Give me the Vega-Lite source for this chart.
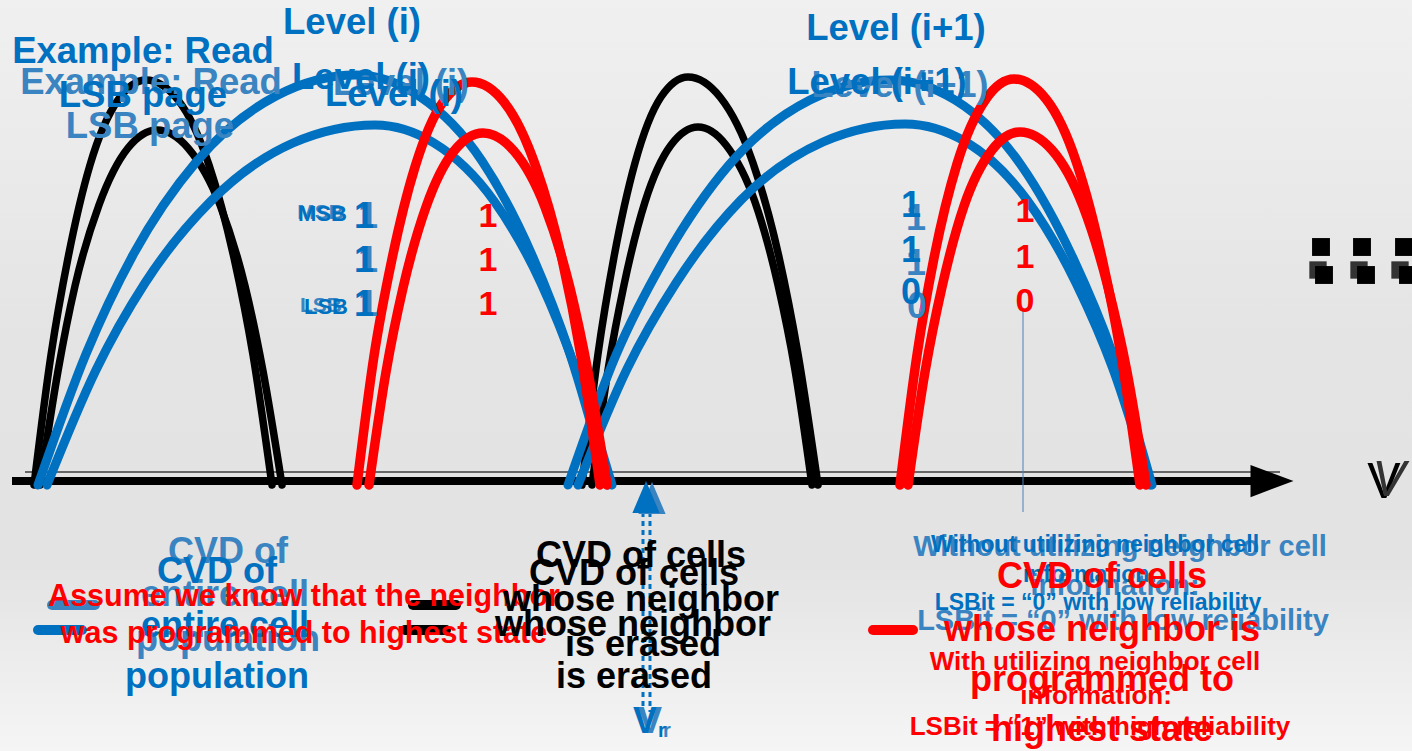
{
  "$schema": "https://vega.github.io/schema/vega-lite/v6.json",
  "width": 1412,
  "height": 751,
  "padding": 0,
  "autosize": {"type": "none"},
  "config": {
    "view": {
      "stroke": null,
      "fill": {"gradient": "linear", "x1": 0, "y1": 0, "x2": 0, "y2": 1,
        "stops": [{"offset": 0, "color": "#f0f0f0"}, {"offset": 0.45, "color": "#e4e4e4"}, {"offset": 0.75, "color": "#e3e3e3"}, {"offset": 1, "color": "#f5f5f5"}]}
    }
  },
  "datasets": {
    "curves": [
      {"s":"erased","c":"K1","x":34,"y":485},{"s":"erased","c":"K1","x":51,"y":355},{"s":"erased","c":"K1","x":68,"y":258},{"s":"erased","c":"K1","x":90,"y":165},{"s":"erased","c":"K1","x":118,"y":100},{"s":"erased","c":"K1","x":146,"y":80},{"s":"erased","c":"K1","x":178,"y":100},{"s":"erased","c":"K1","x":209,"y":165},{"s":"erased","c":"K1","x":234,"y":258},{"s":"erased","c":"K1","x":253,"y":355},{"s":"erased","c":"K1","x":272,"y":485},
      {"s":"erased","c":"K2","x":40,"y":485},{"s":"erased","c":"K2","x":58,"y":371},{"s":"erased","c":"K2","x":75,"y":286},{"s":"erased","c":"K2","x":99,"y":205},{"s":"erased","c":"K2","x":128,"y":148},{"s":"erased","c":"K2","x":157,"y":130},{"s":"erased","c":"K2","x":188,"y":148},{"s":"erased","c":"K2","x":220,"y":205},{"s":"erased","c":"K2","x":245,"y":286},{"s":"erased","c":"K2","x":263,"y":371},{"s":"erased","c":"K2","x":282,"y":485},
      {"s":"erased","c":"K3","x":582,"y":485},{"s":"erased","c":"K3","x":598,"y":354},{"s":"erased","c":"K3","x":614,"y":257},{"s":"erased","c":"K3","x":635,"y":163},{"s":"erased","c":"K3","x":661,"y":97},{"s":"erased","c":"K3","x":688,"y":77},{"s":"erased","c":"K3","x":720,"y":97},{"s":"erased","c":"K3","x":753,"y":163},{"s":"erased","c":"K3","x":779,"y":257},{"s":"erased","c":"K3","x":798,"y":354},{"s":"erased","c":"K3","x":818,"y":485},
      {"s":"erased","c":"K4","x":592,"y":485},{"s":"erased","c":"K4","x":608,"y":370},{"s":"erased","c":"K4","x":624,"y":285},{"s":"erased","c":"K4","x":645,"y":202},{"s":"erased","c":"K4","x":671,"y":145},{"s":"erased","c":"K4","x":698,"y":127},{"s":"erased","c":"K4","x":726,"y":145},{"s":"erased","c":"K4","x":755,"y":202},{"s":"erased","c":"K4","x":778,"y":285},{"s":"erased","c":"K4","x":795,"y":370},{"s":"erased","c":"K4","x":812,"y":485},
      {"s":"entire","c":"B1","x":38,"y":485},{"s":"entire","c":"B1","x":86,"y":354},{"s":"entire","c":"B1","x":133,"y":255},{"s":"entire","c":"B1","x":197,"y":161},{"s":"entire","c":"B1","x":276,"y":96},{"s":"entire","c":"B1","x":356,"y":75},{"s":"entire","c":"B1","x":419,"y":96},{"s":"entire","c":"B1","x":482,"y":161},{"s":"entire","c":"B1","x":532,"y":255},{"s":"entire","c":"B1","x":570,"y":354},{"s":"entire","c":"B1","x":608,"y":485},
      {"s":"entire","c":"B2","x":47,"y":485},{"s":"entire","c":"B2","x":96,"y":370},{"s":"entire","c":"B2","x":145,"y":283},{"s":"entire","c":"B2","x":211,"y":201},{"s":"entire","c":"B2","x":293,"y":143},{"s":"entire","c":"B2","x":375,"y":125},{"s":"entire","c":"B2","x":434,"y":143},{"s":"entire","c":"B2","x":494,"y":201},{"s":"entire","c":"B2","x":541,"y":283},{"s":"entire","c":"B2","x":576,"y":370},{"s":"entire","c":"B2","x":612,"y":485},
      {"s":"entire","c":"B3","x":568,"y":485},{"s":"entire","c":"B3","x":616,"y":355},{"s":"entire","c":"B3","x":665,"y":258},{"s":"entire","c":"B3","x":729,"y":165},{"s":"entire","c":"B3","x":810,"y":100},{"s":"entire","c":"B3","x":890,"y":80},{"s":"entire","c":"B3","x":955,"y":100},{"s":"entire","c":"B3","x":1021,"y":165},{"s":"entire","c":"B3","x":1073,"y":258},{"s":"entire","c":"B3","x":1113,"y":355},{"s":"entire","c":"B3","x":1152,"y":485},
      {"s":"entire","c":"B4","x":578,"y":485},{"s":"entire","c":"B4","x":627,"y":369},{"s":"entire","c":"B4","x":676,"y":283},{"s":"entire","c":"B4","x":741,"y":200},{"s":"entire","c":"B4","x":823,"y":142},{"s":"entire","c":"B4","x":905,"y":124},{"s":"entire","c":"B4","x":966,"y":142},{"s":"entire","c":"B4","x":1027,"y":200},{"s":"entire","c":"B4","x":1076,"y":283},{"s":"entire","c":"B4","x":1113,"y":369},{"s":"entire","c":"B4","x":1150,"y":485},
      {"s":"programmed","c":"R1","x":357,"y":485},{"s":"programmed","c":"R1","x":374,"y":356},{"s":"programmed","c":"R1","x":392,"y":259},{"s":"programmed","c":"R1","x":415,"y":167},{"s":"programmed","c":"R1","x":443,"y":102},{"s":"programmed","c":"R1","x":472,"y":82},{"s":"programmed","c":"R1","x":504,"y":102},{"s":"programmed","c":"R1","x":536,"y":167},{"s":"programmed","c":"R1","x":562,"y":259},{"s":"programmed","c":"R1","x":581,"y":356},{"s":"programmed","c":"R1","x":600,"y":485},
      {"s":"programmed","c":"R2","x":369,"y":485},{"s":"programmed","c":"R2","x":386,"y":372},{"s":"programmed","c":"R2","x":403,"y":288},{"s":"programmed","c":"R2","x":426,"y":207},{"s":"programmed","c":"R2","x":454,"y":151},{"s":"programmed","c":"R2","x":483,"y":133},{"s":"programmed","c":"R2","x":514,"y":151},{"s":"programmed","c":"R2","x":545,"y":207},{"s":"programmed","c":"R2","x":570,"y":288},{"s":"programmed","c":"R2","x":588,"y":372},{"s":"programmed","c":"R2","x":607,"y":485},
      {"s":"programmed","c":"R3","x":900,"y":485},{"s":"programmed","c":"R3","x":917,"y":355},{"s":"programmed","c":"R3","x":934,"y":258},{"s":"programmed","c":"R3","x":957,"y":164},{"s":"programmed","c":"R3","x":986,"y":99},{"s":"programmed","c":"R3","x":1014,"y":79},{"s":"programmed","c":"R3","x":1046,"y":99},{"s":"programmed","c":"R3","x":1077,"y":164},{"s":"programmed","c":"R3","x":1102,"y":258},{"s":"programmed","c":"R3","x":1121,"y":355},{"s":"programmed","c":"R3","x":1140,"y":485},
      {"s":"programmed","c":"R4","x":908,"y":485},{"s":"programmed","c":"R4","x":925,"y":372},{"s":"programmed","c":"R4","x":942,"y":287},{"s":"programmed","c":"R4","x":964,"y":206},{"s":"programmed","c":"R4","x":992,"y":150},{"s":"programmed","c":"R4","x":1020,"y":132},{"s":"programmed","c":"R4","x":1052,"y":150},{"s":"programmed","c":"R4","x":1083,"y":206},{"s":"programmed","c":"R4","x":1108,"y":287},{"s":"programmed","c":"R4","x":1127,"y":372},{"s":"programmed","c":"R4","x":1146,"y":485}
    ],
    "axisThin": [{"x":25,"x2":1280,"y":472,"y2":472}],
    "axisThick": [{"x":12,"x2":1255,"y":481,"y2":481}],
    "axisHead": [{"x":1272,"y":481}],
    "vline": [{"x":1023,"x2":1023,"y":308,"y2":512}],
    "dots": [{"x":643,"x2":643,"y":512,"y2":712},{"x":650,"x2":650,"y":512,"y2":712}],
    "vrHead": [{"x":646,"y":497}],
    "vrHeadLight": [{"x":652,"y":498}],
    "ellipsisGray": [{"x":1318,"y":270},{"x":1359,"y":270},{"x":1400,"y":270}],
    "ellipsis": [{"x":1321,"y":247},{"x":1362,"y":247},{"x":1404,"y":247},{"x":1324,"y":275},{"x":1366,"y":275},{"x":1408,"y":275}],
    "legBlueLight": [{"x":52,"x2":95,"y":605,"y2":605}],
    "legBlue": [{"x":38,"x2":82,"y":630,"y2":630}],
    "legBlack": [{"x":413,"x2":456,"y":605,"y2":605},{"x":405,"x2":446,"y":630,"y2":630}],
    "legRed": [{"x":873,"x2":913,"y":630,"y2":630}],
    "txtBlueLight35": [{"x":151,"y":83,"t":"Example: Read"},{"x":150,"y":127,"t":"LSB page"}],
    "txtBlue35": [{"x":143,"y":52,"t":"Example: Read"},{"x":143,"y":96,"t":"LSB page"}],
    "txtLevelLight": [{"x":401,"y":84,"t":"Level (i)"},{"x":900,"y":86,"t":"Level (i+1)"}],
    "txtLevel": [{"x":352,"y":23,"t":"Level (i)"},{"x":896,"y":29,"t":"Level (i+1)"},{"x":361,"y":78,"t":"Level (i)"},{"x":394,"y":95,"t":"Level (i)"},{"x":877,"y":83,"t":"Level (i+1)"}],
    "txtSbLight": [{"x":344,"y":213,"t":"MSB"},{"x":342,"y":306,"t":"LSB"}],
    "txtSb": [{"x":347,"y":214,"t":"MSB"},{"x":348,"y":307,"t":"LSB"}],
    "bitsBlueLight": [{"x":368,"y":217,"t":"1"},{"x":368,"y":261,"t":"1"},{"x":368,"y":305,"t":"1"},{"x":916,"y":219,"t":"1"},{"x":916,"y":264,"t":"1"},{"x":917,"y":307,"t":"0"}],
    "bitsBlue": [{"x":364,"y":217,"t":"1"},{"x":364,"y":261,"t":"1"},{"x":364,"y":305,"t":"1"},{"x":911,"y":206,"t":"1"},{"x":911,"y":251,"t":"1"},{"x":911,"y":293,"t":"0"}],
    "bitsRed": [{"x":488,"y":217,"t":"1"},{"x":488,"y":261,"t":"1"},{"x":488,"y":305,"t":"1"},{"x":1025,"y":212,"t":"1"},{"x":1025,"y":258,"t":"1"},{"x":1025,"y":302,"t":"0"}],
    "cvdBlueLight": [{"x":228,"y":552,"t":"CVD of"},{"x":225,"y":595,"t":"entire cell"},{"x":228,"y":640,"t":"population"}],
    "cvdBlue": [{"x":217,"y":572,"t":"CVD of"},{"x":225,"y":626,"t":"entire cell"},{"x":217,"y":677,"t":"population"}],
    "assume": [{"x":304,"y":597,"t":"Assume we know that the neighbor"},{"x":304,"y":634,"t":"was programmed to highest state"}],
    "cvdBlack": [{"x":641,"y":556,"t":"CVD of cells"},{"x":641,"y":600,"t":"whose neighbor"},{"x":643,"y":645,"t":"is erased"},{"x":634,"y":574,"t":"CVD of cells"},{"x":633,"y":625,"t":"whose neighbor"},{"x":634,"y":677,"t":"is erased"}],
    "withoutLight": [{"x":1120,"y":547,"t":"Without utilizing neighbor cell"},{"x":1115,"y":586,"t":"information:"},{"x":1123,"y":621,"t":"LSBit = “0” with low reliability"}],
    "without": [{"x":1095,"y":545,"t":"Without utilizing neighbor cell"},{"x":1090,"y":575,"t":"information:"},{"x":1098,"y":603,"t":"LSBit = “0” with low reliability"}],
    "withRed": [{"x":1095,"y":662,"t":"With utilizing neighbor cell"},{"x":1096,"y":696,"t":"information:"},{"x":1100,"y":727,"t":"LSBit = “1” with high reliability"}],
    "cvdRed": [{"x":1102,"y":577,"t":"CVD of cells"},{"x":1102,"y":630,"t":"whose neighbor is"},{"x":1102,"y":680,"t":"programmed to"},{"x":1102,"y":730,"t":"highest state"}],
    "vLabel": [{"x":1384,"y":483,"t":"V"}],
    "vLabel2": [{"x":1389,"y":481,"t":"V"}],
    "vrLight": [{"x":650,"y":722,"t":"V"}],
    "vr": [{"x":645,"y":722,"t":"V"}],
    "vrSubLight": [{"x":667,"y":731,"t":"r"}],
    "vrSub": [{"x":662,"y":731,"t":"r"}]
  },
  "encoding": {
    "x": {"field": "x", "type": "quantitative", "scale": {"domain": [0, 1412], "nice": false, "zero": false}, "axis": null},
    "y": {"field": "y", "type": "quantitative", "scale": {"domain": [0, 751], "nice": false, "zero": false, "reverse": true}, "axis": null}
  },
  "layer": [
    {"data": {"name": "axisThin"}, "mark": {"type": "rule", "color": "#666666", "strokeWidth": 2}, "encoding": {"x2": {"field": "x2"}, "y2": {"field": "y2"}}},
    {"data": {"name": "axisThick"}, "mark": {"type": "rule", "color": "#000000", "strokeWidth": 8}, "encoding": {"x2": {"field": "x2"}, "y2": {"field": "y2"}}},
    {"data": {"name": "curves"}, "transform": [{"filter": "datum.s === 'erased'"}], "mark": {"type": "line", "color": "#000000", "strokeWidth": 7.5, "interpolate": "monotone", "strokeCap": "round"}, "encoding": {"detail": {"field": "c"}}},
    {"data": {"name": "curves"}, "transform": [{"filter": "datum.s === 'entire'"}], "mark": {"type": "line", "color": "#0070C0", "strokeWidth": 9, "interpolate": "monotone", "strokeCap": "round"}, "encoding": {"detail": {"field": "c"}}},
    {"data": {"name": "curves"}, "transform": [{"filter": "datum.s === 'programmed'"}], "mark": {"type": "line", "color": "#FF0000", "strokeWidth": 9.5, "interpolate": "monotone", "strokeCap": "round"}, "encoding": {"detail": {"field": "c"}}},
    {"data": {"name": "axisHead"}, "mark": {"type": "point", "shape": "M -1 -0.75 L 1 0 L -1 0.75 Z", "size": 1849, "filled": true, "color": "#000000", "opacity": 1}},
    {"data": {"name": "vline"}, "mark": {"type": "rule", "color": "#4A7EBB", "strokeWidth": 1}, "encoding": {"x2": {"field": "x2"}, "y2": {"field": "y2"}}},
    {"data": {"name": "dots"}, "mark": {"type": "rule", "color": "#0070C0", "strokeWidth": 3, "strokeDash": [5, 4]}, "encoding": {"x2": {"field": "x2"}, "y2": {"field": "y2"}}},
    {"data": {"name": "vrHeadLight"}, "mark": {"type": "point", "shape": "M -0.85 1 L 0 -1 L 0.85 1 Z", "size": 1024, "filled": true, "color": "#3A84C1", "opacity": 1}},
    {"data": {"name": "vrHead"}, "mark": {"type": "point", "shape": "M -0.85 1 L 0 -1 L 0.85 1 Z", "size": 1024, "filled": true, "color": "#0070C0", "opacity": 1}},
    {"data": {"name": "ellipsisGray"}, "mark": {"type": "point", "shape": "square", "size": 300, "filled": true, "color": "#333333", "opacity": 1}},
    {"data": {"name": "ellipsis"}, "mark": {"type": "point", "shape": "square", "size": 320, "filled": true, "color": "#000000", "opacity": 1}},
    {"data": {"name": "legBlueLight"}, "mark": {"type": "rule", "color": "#3A84C1", "strokeWidth": 10, "strokeCap": "round"}, "encoding": {"x2": {"field": "x2"}, "y2": {"field": "y2"}}},
    {"data": {"name": "legBlue"}, "mark": {"type": "rule", "color": "#0070C0", "strokeWidth": 10, "strokeCap": "round"}, "encoding": {"x2": {"field": "x2"}, "y2": {"field": "y2"}}},
    {"data": {"name": "legBlack"}, "mark": {"type": "rule", "color": "#000000", "strokeWidth": 10, "strokeCap": "round"}, "encoding": {"x2": {"field": "x2"}, "y2": {"field": "y2"}}},
    {"data": {"name": "legRed"}, "mark": {"type": "rule", "color": "#FF0000", "strokeWidth": 10, "strokeCap": "round"}, "encoding": {"x2": {"field": "x2"}, "y2": {"field": "y2"}}},
    {"data": {"name": "txtBlueLight35"}, "mark": {"type": "text", "font": "Liberation Sans", "fontWeight": "bold", "fontSize": 36.5, "color": "#3A84C1", "align": "center", "baseline": "middle"}, "encoding": {"text": {"field": "t"}}},
    {"data": {"name": "txtBlue35"}, "mark": {"type": "text", "font": "Liberation Sans", "fontWeight": "bold", "fontSize": 36.5, "color": "#0070C0", "align": "center", "baseline": "middle"}, "encoding": {"text": {"field": "t"}}},
    {"data": {"name": "txtLevelLight"}, "mark": {"type": "text", "font": "Liberation Sans", "fontWeight": "bold", "fontSize": 36, "color": "#3A84C1", "align": "center", "baseline": "middle"}, "encoding": {"text": {"field": "t"}}},
    {"data": {"name": "txtLevel"}, "mark": {"type": "text", "font": "Liberation Sans", "fontWeight": "bold", "fontSize": 36.5, "color": "#0070C0", "align": "center", "baseline": "middle"}, "encoding": {"text": {"field": "t"}}},
    {"data": {"name": "txtSbLight"}, "mark": {"type": "text", "font": "Liberation Sans", "fontWeight": "bold", "fontSize": 21, "color": "#3A84C1", "align": "right", "baseline": "middle"}, "encoding": {"text": {"field": "t"}}},
    {"data": {"name": "txtSb"}, "mark": {"type": "text", "font": "Liberation Sans", "fontWeight": "bold", "fontSize": 22, "color": "#0070C0", "align": "right", "baseline": "middle"}, "encoding": {"text": {"field": "t"}}},
    {"data": {"name": "bitsBlueLight"}, "mark": {"type": "text", "font": "Liberation Sans", "fontWeight": "bold", "fontSize": 36, "color": "#3A84C1", "align": "center", "baseline": "middle"}, "encoding": {"text": {"field": "t"}}},
    {"data": {"name": "bitsBlue"}, "mark": {"type": "text", "font": "Liberation Sans", "fontWeight": "bold", "fontSize": 36, "color": "#0070C0", "align": "center", "baseline": "middle"}, "encoding": {"text": {"field": "t"}}},
    {"data": {"name": "bitsRed"}, "mark": {"type": "text", "font": "Liberation Sans", "fontWeight": "bold", "fontSize": 34, "color": "#FF0000", "align": "center", "baseline": "middle"}, "encoding": {"text": {"field": "t"}}},
    {"data": {"name": "cvdBlueLight"}, "mark": {"type": "text", "font": "Liberation Sans", "fontWeight": "bold", "fontSize": 36, "color": "#3A84C1", "align": "center", "baseline": "middle"}, "encoding": {"text": {"field": "t"}}},
    {"data": {"name": "cvdBlue"}, "mark": {"type": "text", "font": "Liberation Sans", "fontWeight": "bold", "fontSize": 36, "color": "#0070C0", "align": "center", "baseline": "middle"}, "encoding": {"text": {"field": "t"}}},
    {"data": {"name": "assume"}, "mark": {"type": "text", "font": "Liberation Sans", "fontWeight": "bold", "fontSize": 30.5, "color": "#FF0000", "align": "center", "baseline": "middle"}, "encoding": {"text": {"field": "t"}}},
    {"data": {"name": "cvdBlack"}, "mark": {"type": "text", "font": "Liberation Sans", "fontWeight": "bold", "fontSize": 36, "color": "#000000", "align": "center", "baseline": "middle"}, "encoding": {"text": {"field": "t"}}},
    {"data": {"name": "withoutLight"}, "mark": {"type": "text", "font": "Liberation Sans", "fontWeight": "bold", "fontSize": 29, "color": "#3A84C1", "align": "center", "baseline": "middle"}, "encoding": {"text": {"field": "t"}}},
    {"data": {"name": "without"}, "mark": {"type": "text", "font": "Liberation Sans", "fontWeight": "bold", "fontSize": 23, "color": "#0070C0", "align": "center", "baseline": "middle"}, "encoding": {"text": {"field": "t"}}},
    {"data": {"name": "withRed"}, "mark": {"type": "text", "font": "Liberation Sans", "fontWeight": "bold", "fontSize": 26, "color": "#FF0000", "align": "center", "baseline": "middle"}, "encoding": {"text": {"field": "t"}}},
    {"data": {"name": "cvdRed"}, "mark": {"type": "text", "font": "Liberation Sans", "fontWeight": "bold", "fontSize": 36, "color": "#FF0000", "align": "center", "baseline": "middle"}, "encoding": {"text": {"field": "t"}}},
    {"data": {"name": "vLabel"}, "mark": {"type": "text", "font": "Liberation Sans", "fontSize": 50, "color": "#000000", "align": "center", "baseline": "middle"}, "encoding": {"text": {"field": "t"}}},
    {"data": {"name": "vLabel2"}, "mark": {"type": "text", "font": "Liberation Sans", "fontStyle": "italic", "fontSize": 50, "color": "#333333", "align": "center", "baseline": "middle"}, "encoding": {"text": {"field": "t"}}},
    {"data": {"name": "vrLight"}, "mark": {"type": "text", "font": "Liberation Sans", "fontWeight": "bold", "fontSize": 36, "color": "#3A84C1", "align": "center", "baseline": "middle"}, "encoding": {"text": {"field": "t"}}},
    {"data": {"name": "vr"}, "mark": {"type": "text", "font": "Liberation Sans", "fontWeight": "bold", "fontSize": 36, "color": "#0070C0", "align": "center", "baseline": "middle"}, "encoding": {"text": {"field": "t"}}},
    {"data": {"name": "vrSubLight"}, "mark": {"type": "text", "font": "Liberation Sans", "fontWeight": "bold", "fontSize": 20, "color": "#3A84C1", "align": "center", "baseline": "middle"}, "encoding": {"text": {"field": "t"}}},
    {"data": {"name": "vrSub"}, "mark": {"type": "text", "font": "Liberation Sans", "fontWeight": "bold", "fontSize": 20, "color": "#0070C0", "align": "center", "baseline": "middle"}, "encoding": {"text": {"field": "t"}}}
  ]
}
